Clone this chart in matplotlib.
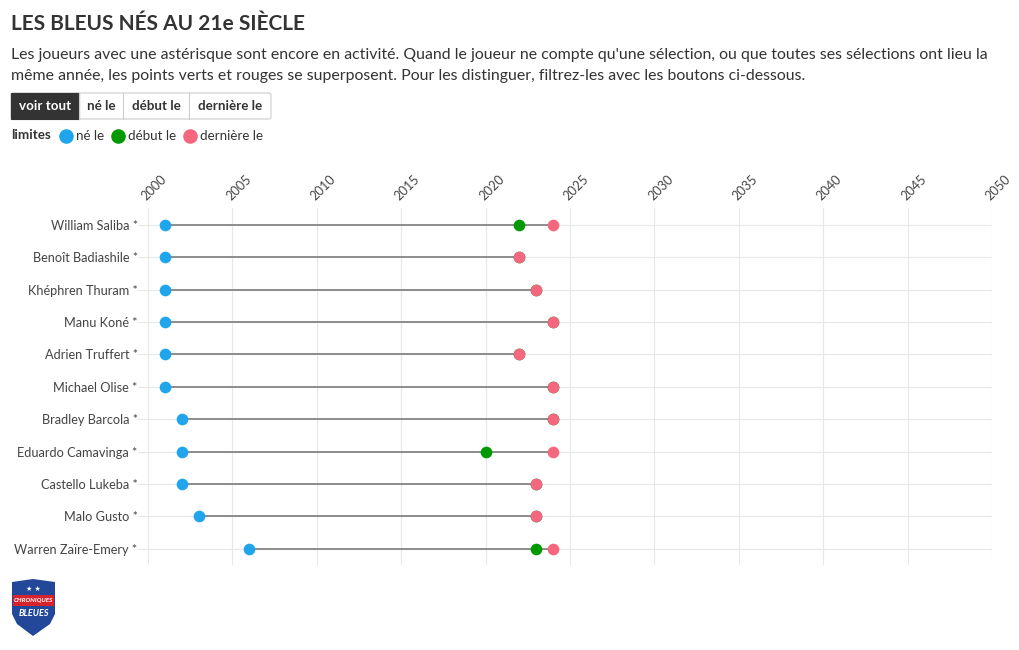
import matplotlib
matplotlib.use("Agg")
import matplotlib.pyplot as plt
from matplotlib.patches import FancyBboxPatch, Rectangle, Polygon
import numpy as np

plt.rcParams['font.family'] = ['Lato', 'DejaVu Sans']

players = ["William Saliba *", "Benoît Badiashile *", "Khéphren Thuram *", "Manu Koné *",
           "Adrien Truffert *", "Michael Olise *", "Bradley Barcola *", "Eduardo Camavinga *",
           "Castello Lukeba *", "Malo Gusto *", "Warren Zaïre-Emery *"]
born = [2001, 2001, 2001, 2001, 2001, 2001, 2002, 2002, 2002, 2003, 2006]
debut = [2022, 2022, 2023, 2024, 2022, 2024, 2024, 2020, 2023, 2023, 2023]
last = [2024, 2022, 2023, 2024, 2022, 2024, 2024, 2024, 2023, 2023, 2024]
xticks = list(range(2000, 2051, 5))

C_BLUE = "#1ea5ec"
C_GREEN = "#009a00"
C_PINK = "#f5677f"
TXT = "#333333"

W, H = 1020, 650
fig = plt.figure(figsize=(W / 100, H / 100), dpi=100)

def fx(px):
    return px / W

def fy(py):
    return 1 - py / H

ax = fig.add_axes([fx(148), fy(565), fx(992) - fx(148), fy(208) - fy(565)])
ax.set_xlim(2000, 2050)
ax.set_ylim(10.5, -0.52)

y = np.arange(len(players))
ax.hlines(y, born, last, color="#8c8c8c", lw=1.4, zorder=2)
ms = 8.4
ax.plot(born, y, 'o', color=C_BLUE, ms=ms, mew=0, zorder=3)
ax.plot(debut, y, 'o', color=C_GREEN, ms=ms, mew=0, zorder=4)
ax.plot(last, y, 'o', color=C_PINK, ms=ms, mew=0, zorder=5)

ax.set_xticks(xticks)
ax.set_xticklabels([str(t) for t in xticks])
ax.xaxis.tick_top()
ax.tick_params(axis='x', length=0, pad=4, labelsize=9.2, labelcolor="#444444")
for lab in ax.get_xticklabels():
    lab.set_rotation(45)
    lab.set_ha('left')
    lab.set_va('bottom')
    lab.set_rotation_mode('anchor')

ax.set_yticks(y)
ax.set_yticklabels(players)
ax.tick_params(axis='y', length=7, width=0.8, color="#e6e6e6", pad=0.5, labelsize=9.15, labelcolor="#444444")

ax.grid(True, color="#e8e8e8", lw=0.8, zorder=0)
ax.set_axisbelow(True)
for s in ax.spines.values():
    s.set_visible(False)

# Title & subtitle
fig.text(fx(11), fy(24), "LES BLEUS NÉS AU 21e SIÈCLE", fontsize=15, fontweight='bold',
         color=TXT, va='center', ha='left')
fig.text(fx(11), fy(55), "Les joueurs avec une astérisque sont encore en activité. Quand le joueur ne compte qu'une sélection, ou que toutes ses sélections ont lieu la",
         fontsize=11.45, color=TXT, va='center', ha='left')
fig.text(fx(11), fy(76), "même année, les points verts et rouges se superposent. Pour les distinguer, filtrez-les avec les boutons ci-dessous.",
         fontsize=11.45, color=TXT, va='center', ha='left')

# Buttons
buttons = [("voir tout", 11, 79), ("né le", 79, 123), ("début le", 123, 189), ("dernière le", 189, 271)]
btop, bbot = 93, 119
outer = FancyBboxPatch((fx(11), fy(bbot)), fx(271) - fx(11), fy(btop) - fy(bbot),
                       boxstyle="round,pad=0,rounding_size=0.003", transform=fig.transFigure,
                       facecolor="white", edgecolor="#cccccc", lw=0.8)
fig.add_artist(outer)
for i, (lab, x0, x1) in enumerate(buttons):
    if i == 0:
        r = Rectangle((fx(x0), fy(bbot)), fx(x1) - fx(x0), fy(btop) - fy(bbot),
                      transform=fig.transFigure, facecolor="#333333", edgecolor="#333333", lw=0.8)
        fig.add_artist(r)
        col = "white"
    else:
        fig.add_artist(plt.Line2D([fx(x0), fx(x0)], [fy(bbot), fy(btop)], transform=fig.transFigure,
                                  color="#cccccc", lw=0.8))
        col = TXT
    fig.text(fx((x0 + x1) / 2), fy(106), lab, fontsize=9.6, fontweight='bold', color=col,
             ha='center', va='center')

# Legend
fig.text(fx(11), fy(135), "limites", fontsize=9.6, fontweight='bold', color=TXT, ha='left', va='center')
leg = [(66, C_BLUE, "né le"), (118, C_GREEN, "début le"), (190, C_PINK, "dernière le")]
for cx, c, lab in leg:
    fig.add_artist(plt.Line2D([fx(cx)], [fy(136)], marker='o', ms=10.5, mew=0, color=c,
                              transform=fig.transFigure))
    fig.text(fx(cx + 10), fy(136), lab, fontsize=9.6, color=TXT, ha='left', va='center')

# Logo (shield)
shield = Polygon([(fx(12), fy(582)), (fx(33), fy(579)), (fx(55), fy(582)), (fx(55), fy(614)),
                  (fx(50), fy(624)), (fx(33), fy(636)), (fx(17), fy(624)), (fx(12), fy(614))],
                 closed=True, transform=fig.transFigure, facecolor="#23489a", edgecolor="none")
fig.add_artist(shield)
fig.add_artist(Rectangle((fx(13), fy(606)), fx(54) - fx(13), fy(595) - fy(606),
                         transform=fig.transFigure, facecolor="#d8232f", edgecolor="none"))
fig.text(fx(33.5), fy(600.5), "CHRONIQUES", fontsize=4.6, color="white", ha='center', va='center',
         fontweight='bold', style='italic')
fig.text(fx(33.5), fy(613), "BLEUES", fontsize=6.5, color="white", ha='center', va='center',
         fontweight='bold', style='italic')
fig.text(fx(33.5), fy(589), "★ ★", fontsize=5, color="white", ha='center', va='center',
         family=['DejaVu Sans'])

fig.savefig("out.png", dpi=100, facecolor="white")
